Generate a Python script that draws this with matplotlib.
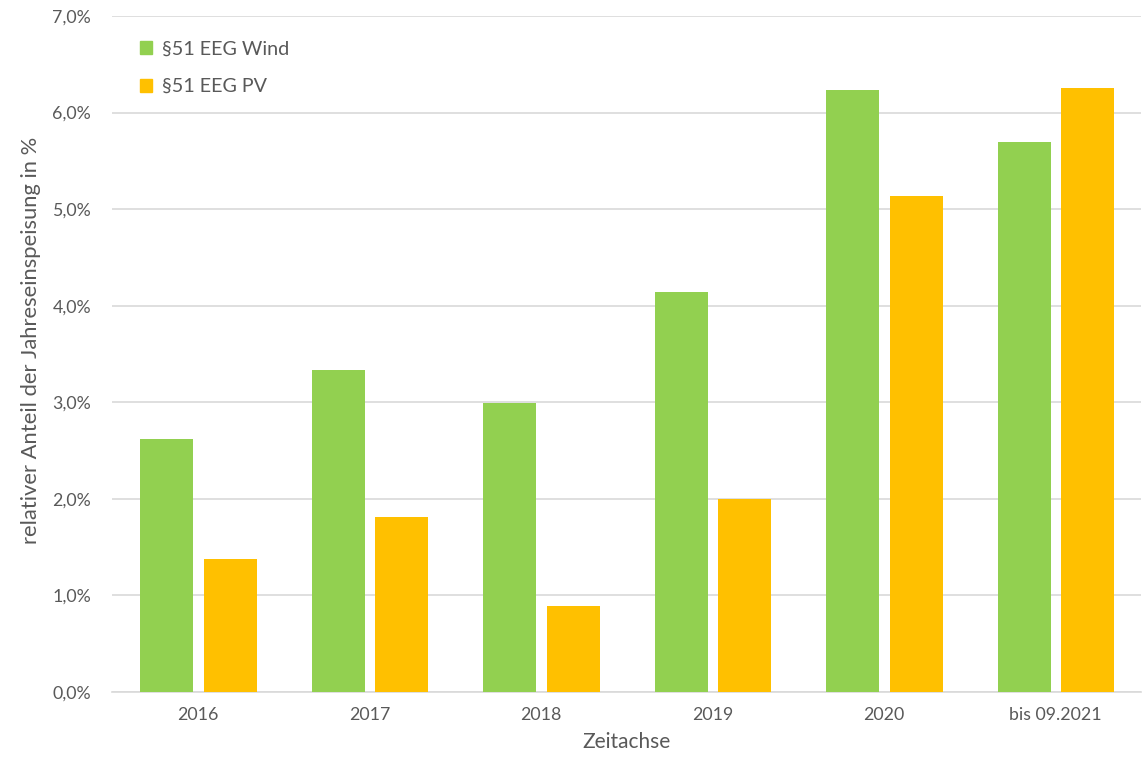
import numpy as np
import matplotlib.pyplot as plt
from matplotlib.ticker import FuncFormatter
from matplotlib.patches import Patch

plt.rcParams['font.family'] = ['Lato', 'DejaVu Sans']

categories = ["2016", "2017", "2018", "2019", "2020", "bis 09.2021"]
wind = [2.62, 3.33, 2.99, 4.14, 6.23, 5.70]
pv = [1.38, 1.81, 0.89, 2.00, 5.14, 6.25]

green = "#92D050"
orange = "#FFC000"
txt = "#595959"

fig = plt.figure(figsize=(11.45, 7.57), dpi=100)
ax = fig.add_axes([0.0978, 0.0859, 0.899, 0.893])

x = np.arange(len(categories))
w = 0.309
ax.bar(x - 0.182, wind, w, color=green, zorder=3)
ax.bar(x + 0.188, pv, w, color=orange, zorder=3)

ax.set_xlim(-0.5, len(categories) - 0.5)
ax.set_ylim(0, 7)
ax.set_yticks(np.arange(0, 8, 1))
ax.yaxis.set_major_formatter(FuncFormatter(lambda v, p: f"{v:.1f}%".replace(".", ",")))
ax.set_xticks(x)
ax.set_xticklabels(categories)
ax.grid(axis="y", color="#D9D9D9", linewidth=1.2, zorder=0)
for s in ["top", "right", "left"]:
    ax.spines[s].set_visible(False)
ax.spines["bottom"].set_color("#D9D9D9")
ax.spines["bottom"].set_linewidth(1.2)
ax.tick_params(axis="both", length=0, labelsize=12.8, colors=txt)
ax.tick_params(axis="x", pad=11)
ax.tick_params(axis="y", pad=15)

ax.set_xlabel("Zeitachse", fontsize=15, color=txt, labelpad=6)
ax.set_ylabel("relativer Anteil der Jahreseinspeisung in %", fontsize=15.8, color=txt)
ax.yaxis.set_label_coords(-0.069, 0.52)

handles = [Patch(color=green, label="§51 EEG Wind"), Patch(color=orange, label="§51 EEG PV")]
leg = ax.legend(handles=handles, loc="upper left", bbox_to_anchor=(0.01, 0.99), frameon=False,
                fontsize=14.2, handlelength=0.6, handleheight=0.6, handletextpad=0.5, labelspacing=1.05)
for t in leg.get_texts():
    t.set_color(txt)

fig.savefig("out.png", dpi=100)
